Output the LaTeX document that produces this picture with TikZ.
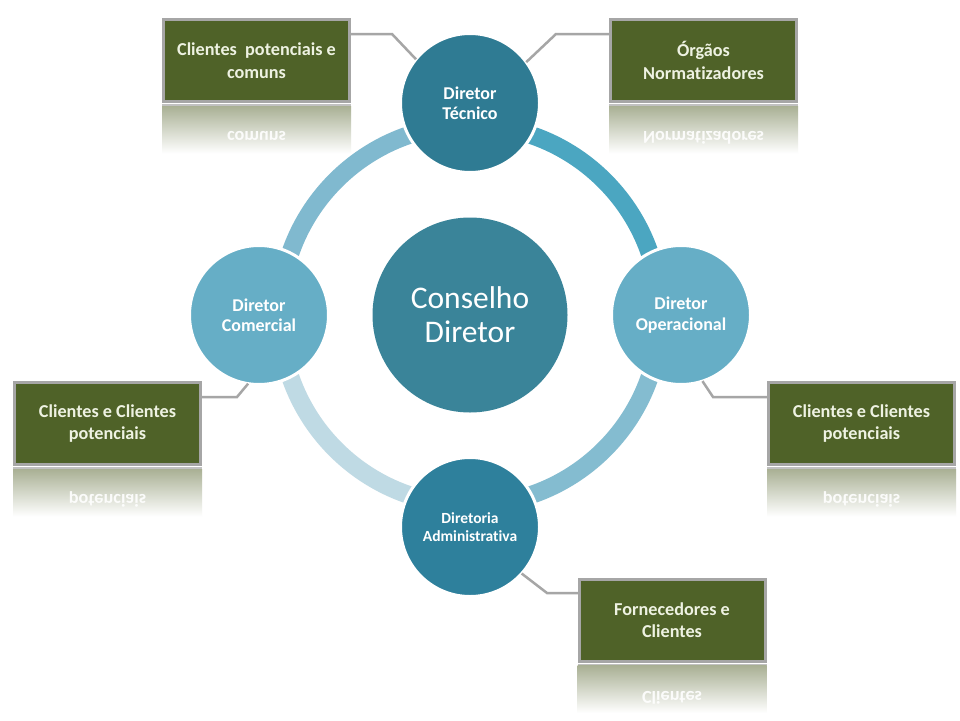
\documentclass[tikz,border=0pt]{standalone}
\usepackage{fontspec}
\setmainfont{Carlito}[Ligatures={NoCommon,TeX}]
\usepackage{graphicx}
\usetikzlibrary{calc}
\newcommand{\nl}{\kern0pt }
\definecolor{boxfill}{HTML}{4F6228}
\definecolor{boxedge}{HTML}{A6A6A6}
\definecolor{boxtext}{HTML}{EEF2E2}
\definecolor{connc}{HTML}{A6A6A6}
\definecolor{ringA}{HTML}{4BA6C1}
\definecolor{ringB}{HTML}{84BCD0}
\definecolor{ringC}{HTML}{BFDAE4}
\definecolor{ringD}{HTML}{80B9CF}
\definecolor{darkc}{HTML}{2F7B93}
\definecolor{admc}{HTML}{2E809C}
\definecolor{lightc}{HTML}{66AEC6}
\definecolor{mainc}{HTML}{3A8499}
\definecolor{reflA}{HTML}{A9B094}
\definecolor{reflB}{HTML}{D4D8C8}
\newcommand{\mkrefl}[2]{%
  \fill[boxedge!70] ($(#1.south west)+(-1.5,2.5)$) rectangle ($(#1.south east)+(1.5,4.5)$);
  \shade[top color=reflA, middle color=reflB, bottom color=white]
    ($(#1.south west)+(-1.5,4.5)$) rectangle ($(#1.south east)+(1.5,52)$);
  \node[refltext, anchor=base] at ($(#1.south)+(0,30)$) {\scalebox{1}[-1]{#2}};
}
\begin{document}
\begin{tikzpicture}[x=1pt,y=-1pt,
  ringarc/.style={line width=18pt},
  satcirc/.style={circle, inner sep=0pt, outer sep=0pt, minimum size=139pt,
    draw=white, line width=3pt, text=white, align=center,
    font=\fontsize{18}{20.5}\selectfont\bfseries},
  maincirc/.style={circle, inner sep=0pt, outer sep=0pt, minimum size=195pt,
    fill=mainc, text=white, align=center, font=\fontsize{31.5}{34}\selectfont},
  infobox/.style={rectangle, inner sep=0pt, outer sep=0pt, minimum width=186pt,
    minimum height=82pt, draw=boxedge, line width=3pt, fill=boxfill,
    text=boxtext, align=center, font=\fontsize{18.2}{22.5}\selectfont\bfseries},
  refltext/.style={inner sep=0pt, text=white, text opacity=0.9,
    font=\fontsize{18.2}{22.5}\selectfont\bfseries},
  conn/.style={draw=connc, line width=2.5pt}
]
\useasboundingbox (0,0) rectangle (960,720);
\fill[white] (0,0) rectangle (960,720);

\coordinate (o) at (470,315);
% ring quadrants (image angles: 270 = top, 0 = right, 90 = bottom, 180 = left)
\draw[ringarc, ringA] (o) ++(270:190) arc[start angle=270, end angle=360, radius=190];
\draw[ringarc, ringB] (o) ++(0:190) arc[start angle=0, end angle=90, radius=190];
\draw[ringarc, ringC] (o) ++(90:190) arc[start angle=90, end angle=180, radius=190];
\draw[ringarc, ringD] (o) ++(180:190) arc[start angle=180, end angle=270, radius=190];

% circles
\node[maincirc] (cd) at (o) {Conselho\\Diretor};
\node[satcirc, fill=darkc] (tec) at (470,103) {Diretor\\Técnico};
\node[satcirc, fill=lightc] (ope) at (681,315) {Diretor\\Operacional};
\node[satcirc, fill=lightc] (com) at (259,315) {Diretor\\Comercial};
\node[satcirc, fill=admc, font=\fontsize{15.5}{18}\selectfont\bfseries] (adm) at (470,527) {Diretoria\\Administrat\nl iva};

% boxes
\node[infobox] (b1) at (256.5,60.5) {Clientes~ potenciais e\\comuns};
\node[infobox] (b2) at (703.5,60.5) {Órgãos\\Normat\nl izadores};
\node[infobox] (b3) at (107.5,423.5) {Clientes e Clientes\\potenciais};
\node[infobox] (b4) at (861.5,423.5) {Clientes e Clientes\\potenciais};
\node[infobox] (b5) at (672,620) {Fornecedores e\\Clientes};

% reflections
\mkrefl{b1}{comuns}
\mkrefl{b2}{Normat\nl izadores}
\mkrefl{b3}{potenciais}
\mkrefl{b4}{potenciais}
\mkrefl{b5}{Clientes}

% connectors
\coordinate (e1) at (392,34);
\coordinate (e2) at (556,34);
\coordinate (e3) at (237,397);
\coordinate (e4) at (713,397);
\coordinate (e5) at (547,593);
\draw[conn] (b1.east |- e1) -- (e1) -- (tec.141.7);
\draw[conn] (b2.west |- e2) -- (e2) -- (tec.36.7);
\draw[conn] (b3.east |- e3) -- (e3) -- (com.261.9);
\draw[conn] (b4.west |- e4) -- (e4) -- (ope.288);
\draw[conn] (b5.west |- e5) -- (e5) -- (adm.318.9);
\end{tikzpicture}
\end{document}
